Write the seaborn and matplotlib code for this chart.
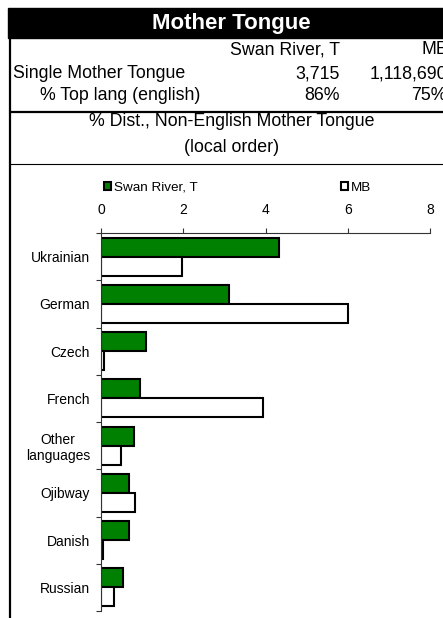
import pandas as pd
import seaborn as sns
from matplotlib import pyplot as plt
from matplotlib.patches import Patch, Rectangle
from matplotlib.lines import Line2D

# data
languages = ["Ukrainian", "German", "Czech", "French", "Other\nlanguages",
             "Ojibway", "Danish", "Russian"]
swan_river = [4.32, 3.11, 1.09, 0.94, 0.81, 0.68, 0.68, 0.54]
manitoba = [1.96, 6.00, 0.07, 3.94, 0.49, 0.83, 0.04, 0.32]
areas = ["Swan River, T", "MB"]
single_mt = ["3,715", "1,118,690"]
top_lang = ["86%", "75%"]
colors = ["#008000", "#ffffff"]

df = pd.DataFrame({
    "lang": languages * 2,
    "pct": swan_river + manitoba,
    "area": [areas[0]] * len(languages) + [areas[1]] * len(languages),
})

sns.set_style("white")
plt.rcParams["font.family"] = ["Liberation Sans", "DejaVu Sans"]
plt.rcParams["text.color"] = "black"
plt.rcParams["xtick.labelcolor"] = "black"
plt.rcParams["ytick.labelcolor"] = "black"

W, H = 443, 618
fig = plt.figure(figsize=(W / 100, H / 100), dpi=100)


def fx(px):
    return px / W


def fy(py):
    return 1 - py / H


# header block
fig.patches.append(Rectangle((fx(8), fy(38)), fx(445) - fx(8), fy(8) - fy(38),
                             transform=fig.transFigure, color="black", zorder=0))
fig.text(fx(231), fy(23), "Mother Tongue", color="white", fontsize=16,
         fontweight="bold", ha="center", va="center")
fig.text(fx(340), fy(50), areas[0], fontsize=12.8, ha="right", va="center")
fig.text(fx(448), fy(50), areas[1], fontsize=12.8, ha="right", va="center")
fig.text(fx(13), fy(74), "Single Mother Tongue", fontsize=12.8, ha="left", va="center")
fig.text(fx(340), fy(74), single_mt[0], fontsize=12.8, ha="right", va="center")
fig.text(fx(447), fy(74), single_mt[1], fontsize=12.8, ha="right", va="center")
fig.text(fx(40), fy(96), "% Top lang (english)", fontsize=12.8, ha="left", va="center")
fig.text(fx(340), fy(96), top_lang[0], fontsize=12.8, ha="right", va="center")
fig.text(fx(447), fy(96), top_lang[1], fontsize=12.8, ha="right", va="center")
fig.text(fx(232), fy(122), "% Dist., Non-English Mother Tongue", fontsize=12.8,
         ha="center", va="center")
fig.text(fx(232), fy(148), "(local order)", fontsize=12.8, ha="center", va="center")

# frame lines
fig.lines.append(Line2D([fx(10), fx(10)], [fy(38), fy(620)], transform=fig.transFigure,
                        color="black", lw=1.6))
fig.lines.append(Line2D([fx(10), fx(445)], [fy(112), fy(112)], transform=fig.transFigure,
                        color="black", lw=1.6))
fig.lines.append(Line2D([fx(10), fx(445)], [fy(163.5), fy(163.5)], transform=fig.transFigure,
                        color="black", lw=0.8))

# bar chart
ax = fig.add_axes([fx(101), fy(611), fx(430) - fx(101), fy(233) - fy(611)])
sns.barplot(data=df, x="pct", y="lang", hue="area", palette=colors, saturation=1,
            edgecolor="black", linewidth=1.5, width=0.8, legend=False, ax=ax)
ax.set_xlim(0, 8)
ax.set_xticks([0, 2, 4, 6, 8])
ax.set_ylim(len(languages) - 0.5, -0.5)
ax.xaxis.tick_top()
ax.set_xlabel("")
ax.set_ylabel("")
ax.set_yticks([i - 0.5 for i in range(len(languages) + 1)], minor=True)
ax.tick_params(axis="x", length=3.6, width=0.8, pad=8, labelsize=10,
               direction="out", color="#333333", labelcolor="black")
ax.tick_params(axis="y", which="major", length=0, pad=8, labelsize=10,
               labelcolor="black")
ax.tick_params(axis="y", which="minor", length=3.6, width=0.8, color="#333333",
               direction="out", left=True)
for lab in ax.get_yticklabels():
    lab.set_multialignment("center")
for side in ["right", "bottom"]:
    ax.spines[side].set_visible(False)
for side in ["top", "left"]:
    ax.spines[side].set_color("#333333")
    ax.spines[side].set_linewidth(0.8)
ax.set_facecolor("none")

handles = [Patch(facecolor=c, edgecolor="black", linewidth=1.5) for c in colors]
fig.legend(handles, areas, loc="center left", bbox_to_anchor=(fx(104), fy(188)),
           ncol=2, frameon=False, fontsize=9.7, borderpad=0, borderaxespad=0,
           handlelength=0.55, handleheight=0.55, handletextpad=0.2,
           columnspacing=10.6, labelcolor="black")

fig.savefig("out.png", dpi=100)
